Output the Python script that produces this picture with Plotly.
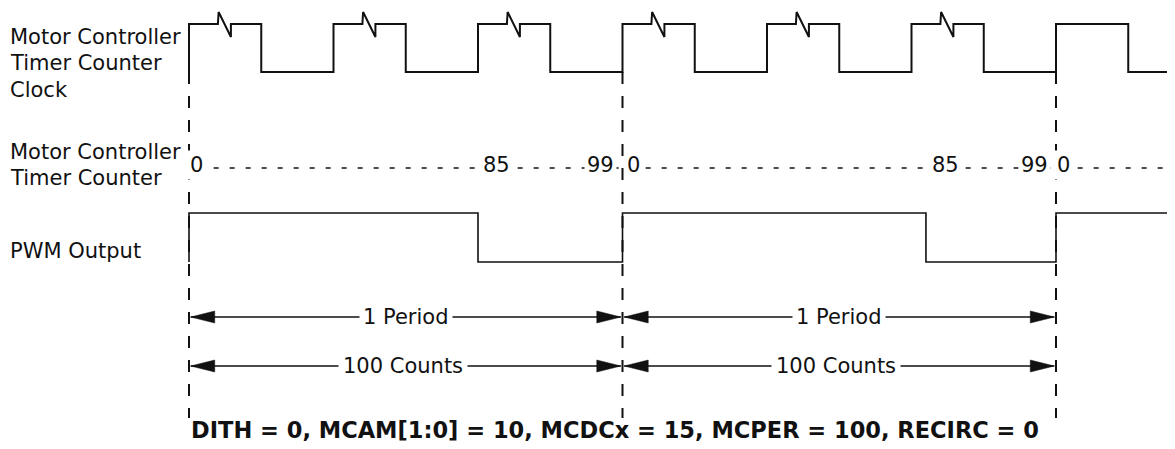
import plotly.graph_objects as go

# ---- data (time in clock cycles, t = 0 at the first period start) ----
clock_rise = [0, 1, 2, 3, 4, 5, 6]
clock_fall = [0.5, 1.5, 2.5, 3.5, 4.5, 5.5, 6.5]
glitch_cycles = [0, 1, 2, 3, 4, 5]     # high phases that carry the break mark
glitch_from = 0.20
glitch_to = 0.29

counter_text = ["0", "85", "99", "0", "85", "99", "0"]
counter_t = [0.01, 2.035, 2.754, 3.03, 5.14, 5.76, 6.01]

pwm_t = [0, 2.0, 3, 5.1, 6]
pwm_level = [1, 0, 1, 0, 1]

period_start = [0, 3]
period_end = [3, 6]
period_label = ["1 Period", "1 Period"]
counts_label = ["100 Counts", "100 Counts"]

row_labels = [
    ["Motor Controller", "Timer Counter", "Clock"],
    ["Motor Controller", "Timer Counter"],
    ["PWM Output"],
]
title_text = "DITH = 0, MCAM[1:0] = 10, MCDCx = 15, MCPER = 100, RECIRC = 0"

# ---- layout constants (x in clock cycles, y in page pixels from top) ----
PAGE_W, PAGE_H, BODY = 1175, 449, 8          # page body has an 8px margin
W, H = PAGE_W - BODY, PAGE_H - BODY
PX0, PX_CLK = 189, 144.5
X_MIN = (BODY - PX0) / PX_CLK
X_MAX = (PAGE_W - PX0) / PX_CLK

CLK_HI, CLK_LO, GL_TOP, GL_BOT = 24, 72, 12, 37
CNT_Y = 168
PWM_HI, PWM_LO = 213, 262
PER_Y, CNT_ARROW_Y = 317, 366
GUIDE_TOP, GUIDE_BOT = 72, 418
LABEL_Y = [[37, 63, 90], [152, 178], [251]]
FONT = "DejaVu Sans, Arial, sans-serif"
INK = "#111111"


def paper_x(px):
    return (px - BODY) / W


fig = go.Figure()

# clock waveform
cx, cy = [0], [CLK_LO]
for i, (r, f) in enumerate(zip(clock_rise, clock_fall)):
    cx += [r, r]
    cy += [CLK_LO, CLK_HI]
    if i in glitch_cycles:
        cx += [r + glitch_from, r + glitch_from + 0.005, r + glitch_to, r + glitch_to]
        cy += [CLK_HI, GL_TOP, GL_BOT, CLK_HI]
    cx += [f, f]
    cy += [CLK_HI, CLK_LO]
    nxt = clock_rise[i + 1] if i + 1 < len(clock_rise) else X_MAX
    cx += [nxt]
    cy += [CLK_LO]
fig.add_trace(go.Scatter(x=cx, y=cy, mode="lines", line=dict(color=INK, width=2)))

# PWM waveform
px, py = [0], [PWM_LO]
for i, (t, lv) in enumerate(zip(pwm_t, pwm_level)):
    lvl = PWM_HI if lv else PWM_LO
    px += [t, t]
    py += [py[-1], lvl]
    nxt = pwm_t[i + 1] if i + 1 < len(pwm_t) else (1170 - PX0) / PX_CLK
    px += [nxt]
    py += [lvl]
fig.add_trace(go.Scatter(x=px, y=py, mode="lines", line=dict(color=INK, width=1.6)))

# counter dotted line
fig.add_trace(go.Scatter(x=[counter_t[0] + 0.05, X_MAX], y=[CNT_Y, CNT_Y], mode="lines",
                         line=dict(color=INK, width=1.3, dash="5px,11px")))

# dashed period guides
gx, gy = [], []
for t in period_start + [period_end[-1]]:
    gx += [t, t, None]
    gy += [GUIDE_TOP, GUIDE_BOT, None]
fig.add_trace(go.Scatter(x=gx, y=gy, mode="lines",
                         line=dict(color=INK, width=2, dash="12px,12px")))

# double-headed arrows
head_len, head_half = 24 / PX_CLK, 6
for ay in [PER_Y, CNT_ARROW_Y]:
    lx, ly, tx, ty = [], [], [], []
    for s, e in zip(period_start, period_end):
        s0, e0 = s + 0.012, e - 0.012
        lx += [s0, e0, None]
        ly += [ay, ay, None]
        tx += [s0, s0 + head_len, s0 + head_len, s0, None,
               e0, e0 - head_len, e0 - head_len, e0, None]
        ty += [ay, ay - head_half, ay + head_half, ay, None,
               ay, ay - head_half, ay + head_half, ay, None]
    fig.add_trace(go.Scatter(x=lx, y=ly, mode="lines", line=dict(color=INK, width=1.6)))
    fig.add_trace(go.Scatter(x=tx, y=ty, mode="lines", fill="toself", fillcolor=INK,
                             line=dict(color=INK, width=0.5)))

annotations = []
# arrow labels
for s, e, pl, cl in zip(period_start, period_end, period_label, counts_label):
    mid = (s + e) / 2
    annotations.append(dict(x=mid, y=PER_Y, text=pl, bgcolor="white", borderpad=3))
    annotations.append(dict(x=mid, y=CNT_ARROW_Y, text=cl, bgcolor="white", borderpad=4,
                            xshift=-3))

# counter values
for t, txt in zip(counter_t, counter_text):
    annotations.append(dict(x=t, y=CNT_Y - 3, text=txt, xanchor="left", xshift=-3,
                            bgcolor="white", borderpad=2))

for a in annotations:
    a.update(xref="x", yref="y", showarrow=False, yanchor="middle",
             font=dict(family=FONT, size=21, color=INK))

# row labels
for lines, ys in zip(row_labels, LABEL_Y):
    for txt, y in zip(lines, ys):
        annotations.append(dict(x=paper_x(8), xref="paper", y=y, yref="y", text=txt,
                                xanchor="left", yanchor="middle", showarrow=False,
                                font=dict(family=FONT, size=21, color=INK)))

annotations.append(dict(x=paper_x(615), xref="paper", y=430, yref="y",
                        text="<b>" + title_text + "</b>",
                        xanchor="center", yanchor="middle", showarrow=False,
                        font=dict(family=FONT, size=22.5, color=INK)))

fig.update_layout(
    width=W,
    height=H,
    margin=dict(l=0, r=0, t=0, b=0),
    paper_bgcolor="white",
    plot_bgcolor="white",
    showlegend=False,
    xaxis=dict(range=[X_MIN, X_MAX], visible=False, fixedrange=True),
    yaxis=dict(range=[PAGE_H, BODY], visible=False, fixedrange=True),
    annotations=annotations,
)

fig.write_html("out.html")
